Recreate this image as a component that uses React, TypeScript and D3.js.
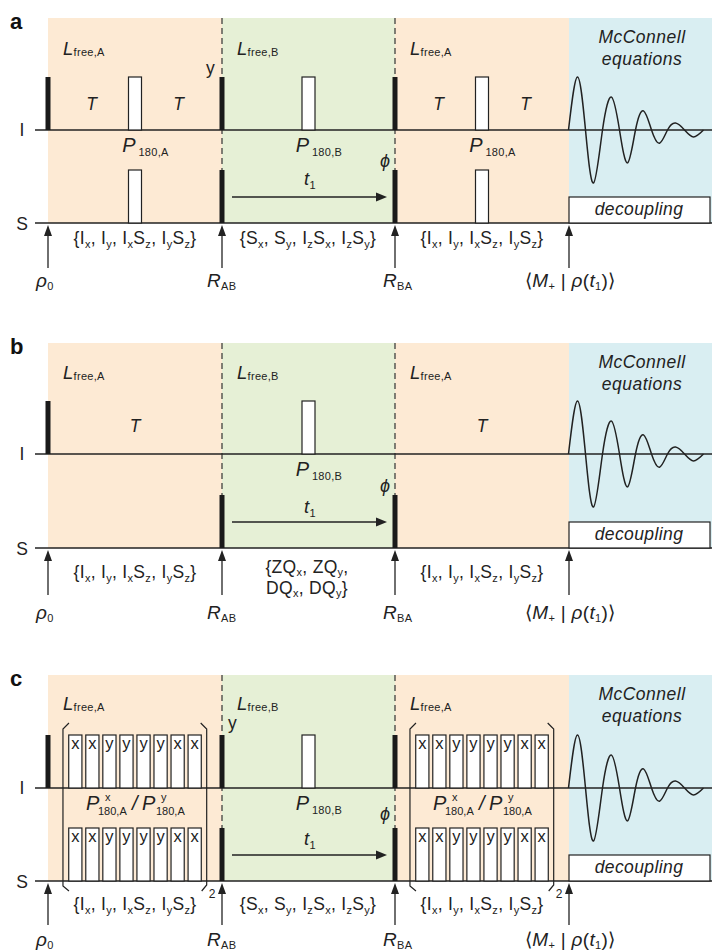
import React from 'react';
import * as d3 from 'd3';

const FONT = "'Liberation Sans', Arial, Helvetica, sans-serif";
const INK = '#222';
const BAR = '#1a1a1a';

// ---------- data ----------
const panelLetters = ['a', 'b', 'c'];
const panelTop = [18, 343, 675];
const panelI = [130, 454, 788];
const panelS = [223, 548, 881];

// sequence time grid: start, R_AB, R_BA, acquisition start, end
const timeBreaks = [0, 1, 2, 3, 3.82];
const periodColors = ['#fdead4', '#e6f0d6', '#fdead4', '#d9eef2'];

type Pulse = { t: number; k: 'hard' | 'p180' | 'train' };
const pulsesI: Pulse[][] = [
  [{ t: 0, k: 'hard' }, { t: 0.5, k: 'p180' }, { t: 1, k: 'hard' }, { t: 1.5, k: 'p180' }, { t: 2, k: 'hard' }, { t: 2.5, k: 'p180' }],
  [{ t: 0, k: 'hard' }, { t: 1.5, k: 'p180' }],
  [{ t: 0, k: 'hard' }, { t: 0.5, k: 'train' }, { t: 1, k: 'hard' }, { t: 1.5, k: 'p180' }, { t: 2, k: 'hard' }, { t: 2.5, k: 'train' }],
];
const pulsesS: Pulse[][] = [
  [{ t: 0.5, k: 'p180' }, { t: 1, k: 'hard' }, { t: 2, k: 'hard' }, { t: 2.5, k: 'p180' }],
  [{ t: 1, k: 'hard' }, { t: 2, k: 'hard' }],
  [{ t: 0.5, k: 'train' }, { t: 1, k: 'hard' }, { t: 2, k: 'hard' }, { t: 2.5, k: 'train' }],
];
const trainPhases = ['x', 'x', 'y', 'y', 'y', 'y', 'x', 'x'];
const trainStep = 0.098;

const delayLabelTimes = [[0.25, 0.75, 2.25, 2.75], [0.5, 2.5], []];
const p180Labels: [number, string][][] = [
  [[0.5, '180,A'], [1.5, '180,B'], [2.5, '180,A']],
  [[1.5, '180,B']],
  [[1.5, '180,B']],
];
const trainLabelTimes = [[], [], [0.5, 2.5]];
const arrowTimes = [0, 1, 2, 3];

// FID (acquisition) extrema and zero crossings: time units, relative amplitude
const fidTime = [0, 9, 17, 25, 34, 43, 51, 59, 67, 75, 83, 91, 99, 107, 116, 125, 135];
const fidAmp = [0, 1, 0, -1, 0, 0.62, 0, -0.62, 0, 0.36, 0, -0.25, 0, 0.13, 0, -0.13, 0];

type Seg = { t: string; it?: boolean; sub?: boolean; sup?: boolean };
const n = (t: string): Seg => ({ t });
const it = (t: string): Seg => ({ t, it: true });
const sb = (t: string): Seg => ({ t, sub: true });

const setIA: Seg[] = [n('{I'), sb('x'), n(', I'), sb('y'), n(', I'), sb('x'), n('S'), sb('z'), n(', I'), sb('y'), n('S'), sb('z'), n('}')];
const setSB: Seg[] = [n('{S'), sb('x'), n(', S'), sb('y'), n(', I'), sb('z'), n('S'), sb('x'), n(', I'), sb('z'), n('S'), sb('y'), n('}')];
const setZQ1: Seg[] = [n('{ZQ'), sb('x'), n(', ZQ'), sb('y'), n(',')];
const setZQ2: Seg[] = [n('DQ'), sb('x'), n(', DQ'), sb('y'), n('}')];
const rho0: Seg[] = [it('ρ'), sb('0')];
const rAB: Seg[] = [it('R'), sb('AB')];
const rBA: Seg[] = [it('R'), sb('BA')];
const mRho: Seg[] = [n('⟨'), it('M'), sb('+'), n(' | '), it('ρ'), n('('), it('t'), sb('1'), n(')⟩')];
const lfreeA: Seg[] = [it('L'), sb('free,A')];
const lfreeB: Seg[] = [it('L'), sb('free,B')];
const t1: Seg[] = [it('t'), sb('1')];

// ---------- layout ----------
const xScale = d3.scaleLinear().domain(timeBreaks).range([48, 222, 395, 569, 712]);
const fidX = d3.scaleLinear().domain([0, 135]).range([568.5, 703.5]);
const PH = 53;

function Rich({ x, y, size = 17.5, subSize = 11, subShift = 4, anchor = 'start', segs, ls = 0.3 }: any) {
  let cur = 0;
  return (
    <text x={x} y={y} fontSize={size} textAnchor={anchor} fontFamily={FONT} fill={INK} letterSpacing={ls}>
      {segs.map((s: Seg, i: number) => {
        const target = s.sub ? subShift : s.sup ? -7 : 0;
        const dy = target - cur;
        cur = target;
        return (
          <tspan key={i} dy={dy} fontSize={s.sub || s.sup ? subSize : size} fontStyle={s.it ? 'italic' : 'normal'}>
            {s.t}
          </tspan>
        );
      })}
    </text>
  );
}

function PulseMark({ p, base }: { p: Pulse; base: number }) {
  const cx = xScale(p.t);
  if (p.k === 'hard') return <rect x={cx - 2.5} y={base - PH} width={5} height={PH} fill={BAR} />;
  if (p.k === 'p180')
    return <rect x={cx - 6.5} y={base - PH} width={13} height={PH} fill="#fff" stroke={INK} strokeWidth={1.2} />;
  return (
    <g>
      {trainPhases.map((ph, i) => {
        const c = xScale(p.t + (i - 3.5) * trainStep);
        return (
          <g key={i}>
            <rect x={c - 6.6} y={base - PH} width={13.2} height={PH} fill="#fff" stroke={INK} strokeWidth={1.2} />
            <text x={c} y={base - PH + 14} fontSize={16.5} textAnchor="middle" fontFamily={FONT} fill={INK}>
              {ph}
            </text>
          </g>
        );
      })}
    </g>
  );
}

function Brackets({ t0, yI, yS }: { t0: number; yI: number; yS: number }) {
  const xl = xScale(t0 + 0.086);
  const xr = xScale(t0 + 0.912);
  const top = yI - 59;
  const bot = yS + 5;
  return (
    <g fill="none" stroke={INK} strokeWidth={1.2}>
      <path d={`M${xl + 6},${top - 6} L${xl},${top} L${xl},${bot} L${xl + 6},${bot + 5}`} />
      <path d={`M${xr - 6},${top - 6} L${xr},${top} L${xr},${bot - 1} L${xr - 5},${bot + 5}`} />
      <text x={xr + 2} y={yS + 17} fontSize={12} fontFamily={FONT} fill={INK} stroke="none">2</text>
    </g>
  );
}

const tBase = [-20, -22, -20];
const lBase = [37, 36, 35];
const phiBase = [-56, -56, -61];
const setBase = [21, 30, 29];
const tailLen = [45, 47, 44];
const botBase = [64, 71, 65];
const t1Base = [-38, -35, -36];

function Panel({ idx }: { idx: number }) {
  const T = panelTop[idx];
  const yI = panelI[idx];
  const yS = panelS[idx];
  const fidLine = d3
    .line<number>()
    .x((_, i) => fidX(fidTime[i]))
    .y((d) => yI - d * PH)
    .curve(d3.curveNatural);

  return (
    <g>
      {/* background periods */}
      {periodColors.map((c, k) => (
        <rect key={k} x={xScale(timeBreaks[k])} y={T} width={xScale(timeBreaks[k + 1]) - xScale(timeBreaks[k])} height={yS - T} fill={c} />
      ))}
      {/* dashed separators */}
      {[1, 2].map((t) => (
        <line key={t} x1={xScale(t)} x2={xScale(t)} y1={T} y2={yS} stroke="#333" strokeWidth={1.2} strokeDasharray="6,4" />
      ))}
      {/* channel lines */}
      <line x1={35} x2={712} y1={yI} y2={yI} stroke={INK} strokeWidth={1.3} />
      <line x1={35} x2={712} y1={yS} y2={yS} stroke={INK} strokeWidth={1.3} />
      <text x={22} y={yI + 6} fontSize={17.5} textAnchor="middle" fontFamily={FONT} fill={INK}>I</text>
      <text x={22} y={yS + 7} fontSize={17.5} textAnchor="middle" fontFamily={FONT} fill={INK}>S</text>
      <text x={10} y={T + 11} fontSize={22} fontWeight="bold" fontFamily={FONT} fill="#111">{panelLetters[idx]}</text>

      {/* pulses */}
      {pulsesI[idx].map((p, i) => <PulseMark key={'i' + i} p={p} base={yI} />)}
      {pulsesS[idx].map((p, i) => <PulseMark key={'s' + i} p={p} base={yS} />)}
      {trainLabelTimes[idx].map((t) => <Brackets key={'b' + t} t0={t - 0.5} yI={yI} yS={yS} />)}

      {/* FID */}
      <path d={fidLine(fidAmp) || ''} fill="none" stroke={INK} strokeWidth={1.5} />
      <rect x={569} y={yS - 26} width={141} height={26} fill="#fff" stroke={INK} strokeWidth={1.2} />
      <text x={639} y={yS - 8} fontSize={17.5} fontStyle="italic" textAnchor="middle" fontFamily={FONT} fill={INK} letterSpacing={0.4}>decoupling</text>
      <text x={642} y={T + 25} fontSize={17.5} fontStyle="italic" textAnchor="middle" fontFamily={FONT} fill={INK} letterSpacing={0.5}>McConnell</text>
      <text x={642} y={T + 47} fontSize={17.5} fontStyle="italic" textAnchor="middle" fontFamily={FONT} fill={INK} letterSpacing={0.5}>equations</text>

      {/* L labels */}
      <Rich x={63} y={T + lBase[idx]} size={18.5} subShift={1} segs={lfreeA} />
      <Rich x={237} y={T + lBase[idx]} size={18.5} subShift={1} segs={lfreeB} />
      <Rich x={410} y={T + lBase[idx]} size={18.5} subShift={1} segs={lfreeA} />

      {/* delay labels */}
      {delayLabelTimes[idx].map((t) => (
        <text key={'T' + t} x={xScale(t)} y={yI + tBase[idx]} fontSize={17.5} fontStyle="italic" textAnchor="middle" fontFamily={FONT} fill={INK}>T</text>
      ))}
      {p180Labels[idx].map(([t, s]) => (
        <Rich key={'P' + t} x={xScale(t) + 10.5} y={yI + 22} anchor="middle" size={20} subSize={11} subShift={4} segs={[it('P'), { t: '\u2009' + s, sub: true }]} />
      ))}
      {trainLabelTimes[idx].map((t) => {
        const c = xScale(t);
        const y = yI + 22;
        return (
          <g key={'PP' + t} fontFamily={FONT} fill={INK}>
            <text x={c - 49} y={y} fontSize={20} fontStyle="italic">P</text>
            <text x={c - 30} y={y - 9} fontSize={11}>x</text>
            <text x={c - 37} y={y + 5} fontSize={11}>180,A</text>
            <text x={c - 3} y={y} fontSize={20} fontStyle="italic">/</text>
            <text x={c + 7} y={y} fontSize={20} fontStyle="italic">P</text>
            <text x={c + 26} y={y - 9} fontSize={11}>y</text>
            <text x={c + 21} y={y + 5} fontSize={11}>180,A</text>
          </g>
        );
      })}

      {/* phase labels */}
      {idx === 0 && <text x={206} y={T + 56} fontSize={17.5} fontFamily={FONT} fill={INK}>y</text>}
      {idx === 2 && <text x={228} y={T + 54} fontSize={17.5} fontFamily={FONT} fill={INK}>y</text>}
      <text x={380} y={yS + phiBase[idx]} fontSize={18} fontStyle="italic" fontFamily={FONT} fill={INK}>ϕ</text>

      {/* t1 arrow */}
      <Rich x={xScale(1.5) + 1.5} y={yS + t1Base[idx]} anchor="middle" size={18.5} subShift={4} segs={t1} />
      <line x1={xScale(1) + 10} x2={xScale(2) - 16} y1={yS - 26} y2={yS - 26} stroke={INK} strokeWidth={1.3} />
      <path d={`M${xScale(2) - 8},${yS - 26} L${xScale(2) - 19},${yS - 30.5} L${xScale(2) - 19},${yS - 21.5} Z`} fill={INK} />

      {/* up arrows */}
      {arrowTimes.map((t) => {
        const x = xScale(t);
        return (
          <g key={'a' + t}>
            <line x1={x} x2={x} y1={yS + 10} y2={yS + tailLen[idx]} stroke={INK} strokeWidth={1.3} />
            <path d={`M${x},${yS + 2} L${x - 4},${yS + 13} L${x + 4},${yS + 13} Z`} fill={INK} />
          </g>
        );
      })}

      {/* operator sets */}
      <Rich x={135} y={yS + setBase[idx]} anchor="middle" segs={setIA} />
      {idx === 1 ? (
        <g>
          <Rich x={307} y={yS + 25} anchor="middle" subShift={2.5} segs={setZQ1} />
          <Rich x={307} y={yS + 46} anchor="middle" subShift={2.5} segs={setZQ2} />
        </g>
      ) : (
        <Rich x={308} y={yS + setBase[idx]} anchor="middle" segs={setSB} />
      )}
      <Rich x={482} y={yS + setBase[idx]} anchor="middle" segs={setIA} />

      {/* bottom labels */}
      <Rich x={36} y={yS + botBase[idx]} size={19} subShift={3} segs={rho0} />
      <Rich x={207} y={yS + botBase[idx]} size={19} subShift={3} segs={rAB} />
      <Rich x={383} y={yS + botBase[idx]} size={19} subShift={3} segs={rBA} />
      <Rich x={525} y={yS + botBase[idx]} size={19} subShift={3} segs={mRho} />
    </g>
  );
}

export default function App() {
  return (
    <svg width={712} height={951} style={{ display: 'block', position: 'absolute', left: 0, top: 0 }}>
      <rect width={712} height={951} fill="#fff" />
      {panelLetters.map((_, i) => (
        <Panel key={i} idx={i} />
      ))}
    </svg>
  );
}
